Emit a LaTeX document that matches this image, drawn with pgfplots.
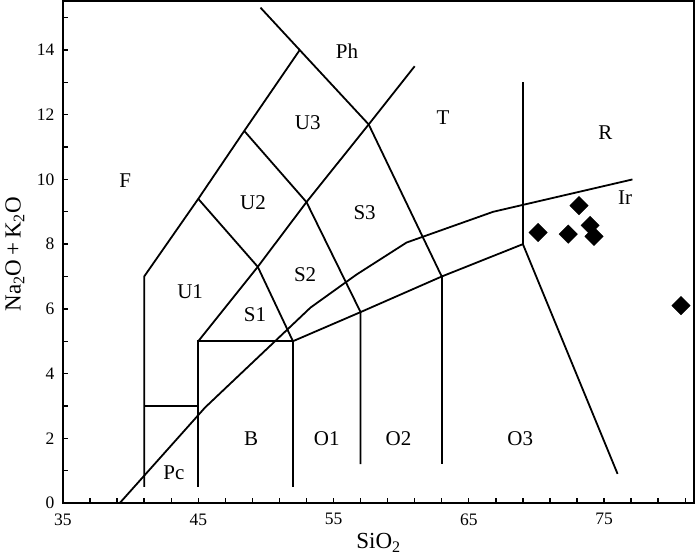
\documentclass[border=0pt]{standalone}
\usepackage{fontspec}
\setmainfont{Liberation Serif}
\usepackage{pgfplots}
\pgfplotsset{compat=1.18}
\begin{document}
\begin{tikzpicture}
\begin{axis}[
  scale only axis, width=631pt, height=501.5pt,
  xmin=35, xmax=81.65, ymin=0, ymax=15.5,
  axis line style={line width=2pt},
  xtick={35,45,...,75}, minor xtick={37,39,...,81},
  ytick={0,2,...,14}, minor ytick={1,3,...,15},
  tick align=inside, xtick pos=bottom, ytick pos=left,
  major tick length=5pt, minor tick length=5pt,
  every tick/.style={line width=1.4pt, black},
  /pgf/number format/assume math mode=true,
  ticklabel style={font=\fontsize{17.5}{17.5}\selectfont},
  xticklabel style={yshift=-7pt},
  yticklabel style={xshift=-5pt},
  every axis plot/.append style={line width=1.8pt, black},
]
% boundaries
\addplot[no markers] coordinates {(41,0.5) (41,7) (45,9.4) (48.4,11.5) (52.5,14) (57.6,11.7) (63,7) (69,8) (76,0.9)};
\addplot[no markers] coordinates {(52.5,14) (49.6,15.31)};
\addplot[no markers] coordinates {(41,3) (45,3)};
\addplot[no markers] coordinates {(45,0.5) (45,5) (52,5) (52,0.5)};
\addplot[no markers] coordinates {(45,5) (49.4,7.3) (53,9.3) (57.6,11.7) (61,13.5)};
\addplot[no markers] coordinates {(45,9.4) (49.4,7.3) (52,5) (57,5.9) (63,7)};
\addplot[no markers] coordinates {(48.4,11.5) (53,9.3) (57,5.9) (57,1.2)};
\addplot[no markers] coordinates {(63,7) (63,1.2)};
\addplot[no markers] coordinates {(69,8) (69,13)};
% Irvine alkaline/subalkaline line
\addplot[no markers] coordinates {(39.2,0) (45.5,2.95) (53.3,6.04) (56.7,7.06) (60.4,8.05) (66.8,9.0) (77.1,10.0)};
% samples
\addplot[only marks, mark=square*, mark size=6.5pt, mark options={rotate=45, fill=black, draw=black, line width=0.4pt}] coordinates {
(70.12,8.36) (72.35,8.31) (73.15,9.19) (73.97,8.58) (74.26,8.24) (80.69,6.10)};
% field labels
\begin{scope}[every node/.style={font=\fontsize{21}{21}\selectfont}]
\node at (axis cs:39.6,9.97) {F};
\node at (axis cs:56.0,13.96) {Ph};
\node at (axis cs:53.1,11.76) {U3};
\node at (axis cs:63.1,11.9) {T};
\node at (axis cs:75.1,11.46) {R};
\node at (axis cs:49.05,9.29) {U2};
\node at (axis cs:57.3,8.98) {S3};
\node at (axis cs:52.9,7.06) {S2};
\node at (axis cs:49.2,5.82) {S1};
\node at (axis cs:44.4,6.53) {U1};
\node at (axis cs:76.55,9.44) {Ir};
\node at (axis cs:43.2,0.93) {Pc};
\node at (axis cs:48.9,1.98) {B};
\node at (axis cs:54.5,1.98) {O1};
\node at (axis cs:59.8,1.98) {O2};
\node at (axis cs:68.8,1.98) {O3};
\end{scope}
\end{axis}
\node[font=\fontsize{23}{23}\selectfont, inner sep=0pt] at ([yshift=-40pt]current axis.south) {SiO\textsubscript{2}};
\node[font=\fontsize{23}{23}\selectfont, rotate=90, inner sep=0pt] at ([xshift=-48pt,yshift=-2pt]current axis.west) {Na\textsubscript{2}O\,+\,K\textsubscript{2}O};
\path (current axis.south west) ++(-63pt,-53pt) coordinate (bbA);
\path (current axis.north east) ++(6pt,1.5pt) coordinate (bbB);
\path[use as bounding box] (bbA) rectangle (bbB);
\end{tikzpicture}
\end{document}
